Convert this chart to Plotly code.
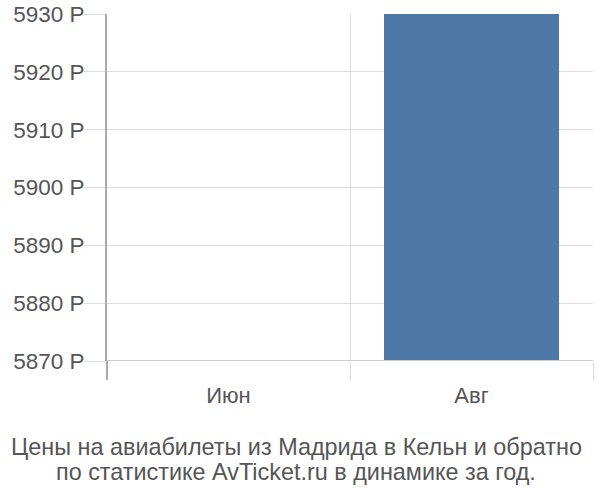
import plotly.graph_objects as go

categories = ["Июн", "Авг"]
prices = [5870, 5930]
y_ticks = [5870, 5880, 5890, 5900, 5910, 5920, 5930]
title_lines = ["Цены на авиабилеты из Мадрида в Кельн и обратно",
               "по статистике AvTicket.ru в динамике за год."]

FONT = "Liberation Sans, Arial, sans-serif"
TXT = "#555555"
W, H = 600, 500
ML, MT, PW, PH = 107, 14, 486, 347
PLOT_BOTTOM = MT + PH

x_pos = list(range(len(categories)))

fig = go.Figure()
fig.add_trace(go.Bar(x=x_pos, y=prices, width=0.72, marker_color="#4e79a7",
                     marker_line_width=0, xaxis="x", yaxis="y"))
fig.add_trace(go.Scatter(x=[-0.5, len(categories) - 0.5], y=[None, None], xaxis="x2", yaxis="y",
                         mode="markers", showlegend=False, hoverinfo="skip"))

fig.update_layout(
    width=W, height=H,
    margin=dict(l=ML, r=W - ML - PW, t=MT, b=H - MT - PH, autoexpand=False),
    paper_bgcolor="white", plot_bgcolor="white",
    showlegend=False, hovermode=False,
    bargap=0,
    font=dict(family=FONT, size=22, color=TXT),
    xaxis=dict(range=[-0.5, len(categories) - 0.5], tickvals=x_pos, ticktext=categories,
               showgrid=False, zeroline=False, showline=False, automargin=False,
               ticks="outside", ticklen=15, tickcolor="rgba(0,0,0,0)",
               tickfont=dict(size=22, color=TXT, family=FONT)),
    xaxis2=dict(range=[-0.5, len(categories) - 0.5], overlaying="x", automargin=False,
                tickvals=[i + 0.5 for i in range(len(categories))],
                showticklabels=False, showgrid=True, gridcolor="#dddddd", gridwidth=1,
                ticks="outside", ticklen=19, tickcolor="#dddddd", zeroline=False, side="bottom"),
    yaxis=dict(range=[y_ticks[0], y_ticks[-1]], tickvals=y_ticks,
               ticktext=[f"{v} Р" for v in y_ticks], automargin=False,
               ticklabeloverflow="allow", ticklabelstandoff=-5,
               showgrid=True, gridcolor="#dddddd", gridwidth=1,
               ticks="outside", ticklen=21, tickcolor="#dddddd",
               showline=True, linecolor="#aaaaaa", linewidth=2,
               zeroline=False, tickfont=dict(size=22.5, color=TXT, family=FONT)),
)
for line, py in zip(title_lines, [447, 472]):
    fig.add_annotation(text=line, x=(296 - ML) / PW, xref="paper", xanchor="center",
                       y=(PLOT_BOTTOM - py) / PH, yref="paper", yanchor="middle",
                       showarrow=False, font=dict(size=23.4, color=TXT, family=FONT))
fig.add_shape(type="line", xref="paper", yref="paper", x0=0, x1=0, y0=0, y1=-19 / PH,
              line=dict(color="#aaaaaa", width=2))
fig.add_shape(type="line", xref="paper", yref="y", x0=0, x1=1, y0=y_ticks[0], y1=y_ticks[0],
              line=dict(color="#cccccc", width=2))

fig.write_html("out.html", config={"displayModeBar": False, "staticPlot": True},
               post_script="document.body.style.margin='0';")
